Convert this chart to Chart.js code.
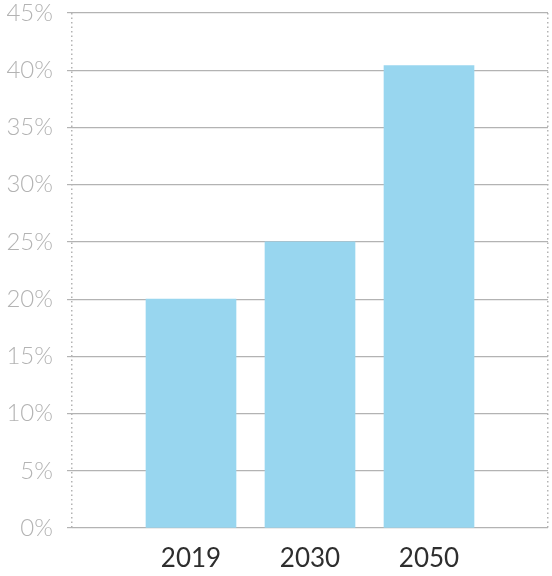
<!DOCTYPE html>
<html>
<head>
<meta charset="utf-8">
<script src="https://cdn.jsdelivr.net/npm/chart.js@4"></script>
<style>
html, body { margin: 0; padding: 0; background: #fff; overflow: hidden; }
#wrap { position: relative; width: 552px; height: 576px; }
canvas { display: block; }
</style>
</head>
<body>
<div id="wrap"><canvas id="chart"></canvas></div>
<script>
// categories, empty slots on both ends give the spacing of the original
var years = ['', '2019', '2030', '2050', ''];
var shares = [null, 20, 25, 40.4, null];
var yTicks = [0, 5, 10, 15, 20, 25, 30, 35, 40, 45];

var lightGrey = '#b3b3b3';

document.addEventListener('DOMContentLoaded', function () {
    var canvas = document.getElementById('chart');

    new Chart(canvas, {
        type: 'bar',
        data: {
            labels: years,
            datasets: [{
                data: shares,
                backgroundColor: '#98d6ef',
                borderWidth: 0,
                barThickness: 90
            }]
        },
        options: {
            responsive: true,
            maintainAspectRatio: false,
            animation: false,
            layout: { padding: 0 },
            plugins: {
                legend: { display: false },
                tooltip: { enabled: false }
            },
            scales: {
                x: {
                    offset: false,
                    // fixed box so the plot area lines up with the original
                    afterFit: function (scale) {
                        scale.height = 48;
                        scale.paddingLeft = 0;
                        scale.paddingRight = 4;
                    },
                    grid: {
                        offset: false,
                        drawTicks: false,
                        lineWidth: 1.5,
                        // only the two outer lines, dotted
                        color: function (ctx) {
                            var i = ctx.index;
                            return (i === 0 || i === years.length - 1) ? lightGrey : 'rgba(0,0,0,0)';
                        }
                    },
                    border: { display: false, dash: [1.5, 3] },
                    ticks: {
                        color: '#2e2e2e',
                        padding: 18,
                        autoSkip: false,
                        maxRotation: 0,
                        font: { family: 'Lato', size: 26, weight: 400, lineHeight: 1 }
                    }
                },
                y: {
                    min: 0,
                    max: 45,
                    z: 1,
                    afterBuildTicks: function (scale) {
                        scale.ticks = yTicks.map(function (v) { return { value: v }; });
                    },
                    afterFit: function (scale) {
                        scale.width = 72;
                        scale.paddingTop = 13;
                        scale.paddingBottom = 0;
                    },
                    border: { display: false },
                    grid: {
                        color: lightGrey,
                        lineWidth: 1.2,
                        tickLength: 5
                    },
                    ticks: {
                        color: lightGrey,
                        padding: 14,
                        font: { family: 'Lato', size: 24, weight: 300, lineHeight: 1 },
                        callback: function (v) { return v + '%'; }
                    }
                }
            }
        }
    });
});
</script>
</body>
</html>
